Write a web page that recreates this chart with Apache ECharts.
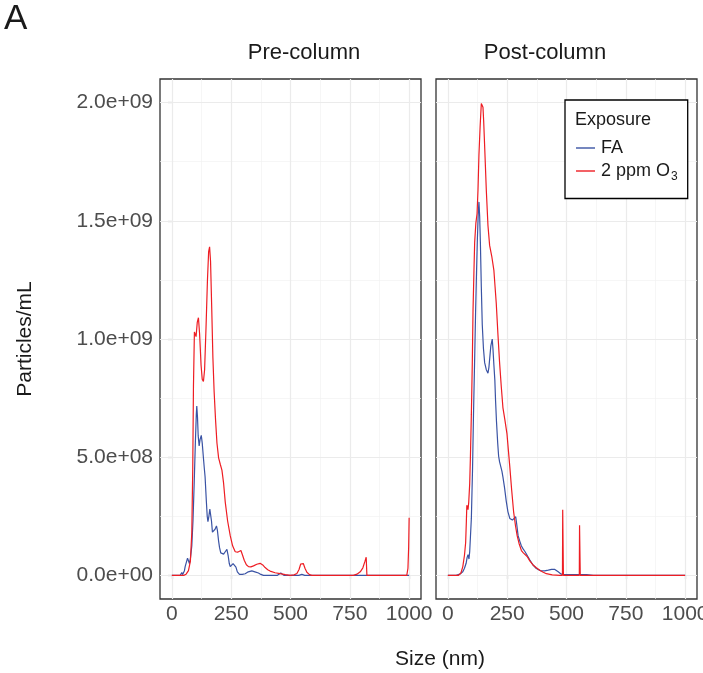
<!DOCTYPE html>
<html>
<head>
<meta charset="utf-8">
<script src="https://cdn.jsdelivr.net/npm/echarts@6/dist/echarts.min.js"></script>
<style>
html,body{margin:0;padding:0;background:#fff;}
#chart{width:703px;height:673px;}
</style>
</head>
<body>
<div id="chart"></div>
<script>
// ---------- data (x = size in nm, y = particles/mL) ----------
const panels = ['Pre-column', 'Post-column'];
const seriesNames = ['FA', '2 ppm O3'];

const preFA = [
 [0,0],[35,0],[40,0.05e8],[42,0.12e8],[45,0.03e8],[50,0.02e8],[53,0.2e8],[56,0.37e8],[61,0.55e8],[66,0.73e8],
 [70,0.62e8],[74,0.5e8],[78,0.7e8],[84,1.24e8],[89,2.3e8],[94,3.87e8],[99,5.6e8],[103,6.8e8],[105,7.16e8],
 [108,6.7e8],[111,5.9e8],[115,5.48e8],[119,5.75e8],[124,5.92e8],[128,5.6e8],[133,4.97e8],[137,4.5e8],
 [140,4.17e8],[145,3.2e8],[149,2.5e8],[152,2.27e8],[156,2.5e8],[160,2.8e8],[163,2.8e8],[167,2.3e8],
 [171,1.83e8],[176,1.75e8],[182,1.95e8],[188,2.09e8],[192,1.9e8],[197,1.45e8],[201,1.17e8],[206,0.95e8],
 [211,0.88e8],[218,0.9e8],[225,1.0e8],[232,1.1e8],[237,0.85e8],[242,0.5e8],[246,0.37e8],[252,0.4e8],
 [258,0.5e8],[264,0.51e8],[270,0.35e8],[276,0.15e8],[285,0.04e8],[297,0.04e8],[309,0.07e8],[322,0.15e8],
 [337,0.19e8],[350,0.15e8],[365,0.1e8],[375,0.04e8],[386,0],[445,0],[452,0.06e8],[459,0.1e8],[465,0.04e8],
 [472,0],[535,0],[548,0.04e8],[560,0],[1000,0]
];
const preO3 = [
 [0,0],[50,0],[60,0.05e8],[70,0.2e8],[78,0.6e8],[84,1.8e8],[88,4.5e8],[91,8.0e8],[95,10.3e8],[99,10.3e8],
 [102,10.1e8],[107,10.7e8],[112,10.9e8],[117,10.2e8],[123,8.9e8],[128,8.3e8],[133,8.2e8],[138,8.7e8],
 [144,10.5e8],[150,12.5e8],[155,13.7e8],[159,13.9e8],[163,13.3e8],[168,11.3e8],[173,9.2e8],[178,7.8e8],
 [184,6.6e8],[190,5.6e8],[197,4.97e8],[204,4.7e8],[211,4.45e8],[218,3.9e8],[225,3.1e8],[235,2.3e8],
 [246,1.68e8],[256,1.25e8],[267,1.0e8],[277,0.98e8],[285,1.03e8],[291,1.05e8],[298,0.85e8],[305,0.64e8],
 [314,0.45e8],[323,0.37e8],[333,0.36e8],[344,0.4e8],[358,0.47e8],[372,0.51e8],[383,0.44e8],[393,0.33e8],
 [404,0.24e8],[414,0.18e8],[435,0.11e8],[456,0.07e8],[478,0.03e8],[499,0],[515,0.02e8],[527,0.08e8],
 [536,0.25e8],[543,0.48e8],[548,0.56e8],[554,0.5e8],[561,0.3e8],[569,0.13e8],[580,0.03e8],[590,0],
 [765,0],[780,0.05e8],[794,0.15e8],[805,0.32e8],[814,0.6e8],[819,0.77e8],[821,0.77e8],[822,0],
 [990,0],[995,0.3e8],[998,1.2e8],[1000,2.44e8]
];
const postFA = [
 [0,0],[35,0],[50,0.05e8],[63,0.15e8],[70,0.3e8],[77,0.51e8],[81,0.75e8],[85,0.88e8],[87,0.8e8],[89,0.69e8],
 [92,1.0e8],[95,1.6e8],[99,2.41e8],[104,4.5e8],[108,6.8e8],[113,9.2e8],[117,11.2e8],[121,12.9e8],[124,14.1e8],
 [128,15.3e8],[131,15.8e8],[134,15.2e8],[137,14.1e8],[141,12.2e8],[145,10.6e8],[150,9.6e8],[155,9.0e8],
 [162,8.7e8],[169,8.55e8],[173,8.8e8],[176,9.14e8],[181,9.7e8],[187,10.0e8],[190,9.6e8],[194,8.9e8],
 [198,8.26e8],[201,7.4e8],[205,6.5e8],[210,5.6e8],[214,5.04e8],[218,4.8e8],[223,4.6e8],[228,4.4e8],
 [232,4.17e8],[239,3.7e8],[246,3.14e8],[253,2.7e8],[261,2.41e8],[267,2.33e8],[272,2.34e8],[279,2.4e8],
 [286,2.48e8],[291,2.1e8],[296,1.68e8],[303,1.45e8],[310,1.24e8],[317,1.12e8],[324,1.02e8],[334,0.85e8],
 [345,0.66e8],[358,0.45e8],[373,0.29e8],[390,0.2e8],[408,0.19e8],[423,0.22e8],[437,0.25e8],[451,0.25e8],
 [465,0.15e8],[478,0.05e8],[490,0.03e8],[540,0.03e8],[585,0.03e8],[613,0],[1000,0]
];
const postO3 = [
 [0,0],[45,0],[55,0.1e8],[63,0.37e8],[70,0.85e8],[75,1.39e8],[78,2.3e8],[80,2.97e8],[83,2.9e8],[85,2.78e8],
 [88,3.1e8],[92,3.87e8],[95,5.0e8],[99,6.8e8],[103,9.0e8],[106,11.2e8],[110,12.9e8],[113,14.1e8],
 [118,14.9e8],[123,15.3e8],[127,16.3e8],[131,17.8e8],[136,19.0e8],[141,19.96e8],[145,20.0e8],[148,19.8e8],
 [151,19.2e8],[156,17.9e8],[162,16.3e8],[169,14.8e8],[176,13.96e8],[185,13.5e8],[194,12.9e8],[199,12.2e8],
 [204,11.5e8],[211,10.2e8],[218,9.0e8],[225,8.0e8],[232,7.1e8],[240,6.6e8],[249,6.0e8],[255,5.3e8],
 [261,4.6e8],[269,3.6e8],[277,2.7e8],[285,2.1e8],[292,1.68e8],[300,1.35e8],[310,1.05e8],[318,0.95e8],
 [326,0.88e8],[334,0.8e8],[346,0.6e8],[359,0.44e8],[373,0.32e8],[387,0.22e8],[400,0.14e8],[415,0.07e8],
 [440,0.02e8],[472,0],[483,0],[484,2.78e8],[486,2.78e8],[487,0],[554,0],[555,2.12e8],[557,2.12e8],[558,0],
 [1000,0]
];

const xTicks = [0, 250, 500, 750, 1000];
const xMinor = [125, 375, 625, 875];
const yTicks = [0, 5e8, 1e9, 1.5e9, 2e9];
const yMinor = [2.5e8, 7.5e8, 1.25e9, 1.75e9];
const xRange = [-50, 1050];
const yRange = [-1e8, 2.1e9];

// ---------- styling ----------
const FONT = "'Liberation Sans', Arial, Helvetica, sans-serif";
const BLUE = '#3A53A4';
const RED = '#EE1D23';
const gridBoxes = [
  {left: 160, top: 79, width: 261, height: 520},
  {left: 436, top: 79, width: 261, height: 520}
];

function sciFmt(v) {
  const s = Number(v).toExponential(1);
  return s.replace(/e([+-])(\d)$/, 'e$10$2');
}

const chart = echarts.init(document.getElementById('chart'), null, {renderer: 'canvas'});

const grids = gridBoxes.map(b => Object.assign({
  show: true, borderColor: '#333333', borderWidth: 1.3, backgroundColor: '#ffffff',
  containLabel: false, outerBoundsMode: 'none'
}, b));

const xAxes = gridBoxes.map((b, i) => ({
  gridIndex: i, type: 'value', min: xRange[0], max: xRange[1],
  axisLine: {show: false},
  axisTick: {show: true, customValues: xTicks, length: 4, lineStyle: {color: '#333333', width: 1.1}},
  axisLabel: {customValues: xTicks, fontSize: 21, color: '#4D4D4D', margin: 5, fontFamily: FONT,
              formatter: v => String(v)},
  splitLine: {show: false}
}));

const yAxes = gridBoxes.map((b, i) => ({
  gridIndex: i, type: 'value', min: yRange[0], max: yRange[1],
  axisLine: {show: false},
  axisTick: {show: i === 0, customValues: yTicks, length: 4, lineStyle: {color: '#333333', width: 1.1}},
  axisLabel: {show: i === 0, customValues: yTicks, fontSize: 21, color: '#4D4D4D', margin: 7,
              fontFamily: FONT, formatter: sciFmt},
  splitLine: {show: false}
}));

function gridLineSeries(i) {
  const major = {color: '#EBEBEB', width: 1.2, type: 'solid'};
  const minor = {color: '#F2F2F2', width: 0.7, type: 'solid'};
  const data = []
    .concat(xMinor.map(v => ({xAxis: v, lineStyle: minor})))
    .concat(yMinor.map(v => ({yAxis: v, lineStyle: minor})))
    .concat(xTicks.map(v => ({xAxis: v, lineStyle: major})))
    .concat(yTicks.map(v => ({yAxis: v, lineStyle: major})));
  return {
    type: 'line', name: '_grid' + i, xAxisIndex: i, yAxisIndex: i, data: [], z: 1, silent: true,
    markLine: {silent: true, z: 1, symbol: ['none', 'none'], label: {show: false},
               emphasis: {disabled: true}, animation: false, lineStyle: major, data: data}
  };
}

function dataSeries(name, data, color, i) {
  return {
    type: 'line', name: name, data: data, xAxisIndex: i, yAxisIndex: i,
    showSymbol: false, symbol: 'none', smooth: false, z: 10, animation: false,
    lineStyle: {color: color, width: 1.2}, itemStyle: {color: color},
    emphasis: {disabled: true}
  };
}

const option = {
  animation: false,
  textStyle: {fontFamily: FONT},
  grid: grids,
  xAxis: xAxes,
  yAxis: yAxes,
  legend: {
    show: true, data: seriesNames, orient: 'vertical',
    left: 565, top: 100,
    backgroundColor: '#ffffff', borderColor: '#000000', borderWidth: 1.3,
    padding: [39, 10, 16, 11], itemGap: 5, itemWidth: 19, itemHeight: 1.4, icon: 'rect',
    textStyle: {fontSize: 18, color: '#1A1A1A', fontFamily: FONT, padding: [0, 0, 0, 1],
      rich: {sub: {fontSize: 12, color: '#1A1A1A', fontFamily: FONT, padding: [11, 0, 0, 1]}}},
    formatter: function (n) { return n === '2 ppm O3' ? '2 ppm O{sub|3}' : n; },
    selectedMode: false
  },
  graphic: [
    {type: 'text', x: 4, y: 19, z: 100, style: {text: 'A', font: '35px ' + FONT, fill: '#1A1A1A', textAlign: 'left', textVerticalAlign: 'middle'}},
    {type: 'text', x: 304, y: 53, z: 100, style: {text: panels[0], font: '22px ' + FONT, fill: '#1A1A1A', textAlign: 'center', textVerticalAlign: 'middle'}},
    {type: 'text', x: 545, y: 53, z: 100, style: {text: panels[1], font: '22px ' + FONT, fill: '#1A1A1A', textAlign: 'center', textVerticalAlign: 'middle'}},
    {type: 'text', x: 440, y: 659, z: 100, style: {text: 'Size (nm)', font: '21px ' + FONT, fill: '#1A1A1A', textAlign: 'center', textVerticalAlign: 'middle'}},
    {type: 'text', x: 25, y: 339, rotation: Math.PI / 2, z: 100, style: {text: 'Particles/mL', font: '21px ' + FONT, fill: '#1A1A1A', textAlign: 'center', textVerticalAlign: 'middle'}},
    {type: 'text', x: 575, y: 120, z: 100, style: {text: 'Exposure', font: '18px ' + FONT, fill: '#1A1A1A', textAlign: 'left', textVerticalAlign: 'middle'}}
  ],
  series: [
    gridLineSeries(0), gridLineSeries(1),
    dataSeries(seriesNames[0], preFA, BLUE, 0),
    dataSeries(seriesNames[1], preO3, RED, 0),
    dataSeries(seriesNames[0], postFA, BLUE, 1),
    dataSeries(seriesNames[1], postO3, RED, 1)
  ]
};
chart.setOption(option);
</script>
</body>
</html>
